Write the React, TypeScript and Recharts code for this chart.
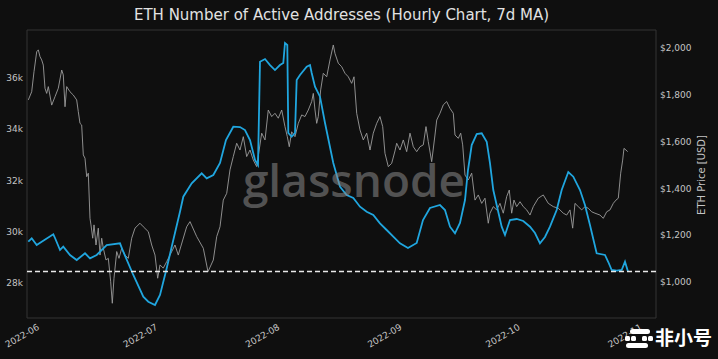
import React from "react";
import { LineChart, Line, XAxis, YAxis, ReferenceLine, ReferenceArea } from "recharts";

// x values are days since 2022-06-01
const monthTicks = [0, 30, 61, 92, 122, 153];
const monthLabels = ["2022-06", "2022-07", "2022-08", "2022-09", "2022-10", "2022-11"];
const addrTicks = [28000, 30000, 32000, 34000, 36000];
const priceTicks = [1000, 1200, 1400, 1600, 1800, 2000];
const baselineAddr = 28450;

// active addresses, 7d MA
const addrDays = [
  -2.97, -2.1, -0.84, 0.43, 3.38, 3.81, 5.08, 5.91, 7.61, 9.31,
  11.42, 12.69, 14.39, 16.93, 20.3, 21.14, 23.68, 26.22, 27.49, 29.19,
  30.46, 32.16, 33.43, 35.53, 36.37, 38.5, 41.04, 42.31, 43.99, 45.69,
  47.2, 49.06, 50.76, 52.03, 53.3, 54.57, 55.33, 55.84, 57.11, 58.38,
  59.64, 60.91, 61.75, 62.18, 62.77, 63.02, 63.88, 64.72, 65.15, 65.99,
  67.69, 68.53, 68.96, 69.8, 71.07, 72.34, 74.44, 76.14, 77.84, 79.52,
  81.22, 82.92, 84.59, 86.29, 87.99, 89.67, 91.37, 93.4, 95.61, 97.21,
  98.98, 101.52, 102.79, 104.06, 105.33, 106.6, 107.87, 108.63, 109.57, 110.84,
  112.11, 113.38, 114.21, 115.05, 115.91, 117.18, 118.02, 119.29, 120.99, 122.66,
  124.37, 125.63, 126.9, 128.17, 129.44, 131.14, 132.41, 134.09, 135.36, 137.06,
  138.32, 139.59, 141.29, 143.4, 144.24, 145.1, 146.37, 147.64, 148.48, 149.24,
];
const addrValues = [
  29611, 29744, 29483, 29611, 29900, 29756, 29288, 29416, 29093, 28897,
  29159, 28964, 29093, 29483, 29549, 29221, 28312, 27465, 27270, 27142,
  27532, 28574, 29416, 30782, 31367, 31890, 32281, 32085, 32214, 32682,
  33580, 34099, 34087, 33970, 33580, 32799, 32604, 36635, 36740, 36506,
  36311, 36506, 36584, 37365, 37287, 33853, 33709, 33853, 35921, 36116,
  36440, 36506, 36194, 35660, 35270, 34243, 32682, 31758, 31434, 31317,
  30977, 30782, 30653, 30329, 30068, 29807, 29549, 29366, 29561, 30458,
  30927, 31044, 30848, 30197, 29939, 30341, 31239, 32409, 33385, 33814,
  33841, 33513, 32682, 31629, 31044, 30197, 29873, 30458, 30497, 30419,
  30197, 29951, 29549, 29795, 30197, 30848, 31629, 32331, 32148, 31629,
  31044, 30263, 29159, 29093, 28819, 28507, 28480, 28507, 28831, 28449,
];

// ETH price, USD
const priceDays = [
  -2.97, -2.11, -1.52, -0.84, -0.43, 0, 0.43, 0.84, 1.27, 1.7,
  2.11, 2.97, 3.81, 4.64, 5.51, 5.91, 6.35, 6.78, 7.61, 8.45,
  9.31, 9.72, 10.15, 10.58, 10.99, 11.42, 11.85, 12.26, 12.69, 12.94,
  13.38, 13.71, 14.21, 14.8, 15.23, 15.66, 16.07, 16.75, 17.34, 17.94,
  18.35, 18.78, 19.47, 20.05, 20.74, 21.57, 22.41, 23.27, 24.11, 25.38,
  26.22, 27.49, 28.35, 29.19, 29.87, 30.46, 31.29, 32.16, 32.99, 34.26,
  35.1, 37.23, 38.07, 39.77, 41.45, 42.64, 43.99, 44.85, 45.69, 46.52,
  47.39, 48.22, 49.06, 49.92, 50.76, 51.6, 52.46, 53.3, 54.14, 55,
  56.27, 57.11, 57.94, 58.81, 59.64, 60.48, 61.35, 62.18, 62.77, 63.27,
  63.88, 64.72, 65.56, 66.42, 67.26, 68.1, 68.96, 69.37, 69.8, 70.23,
  70.63, 71.24, 71.9, 72.77, 73.6, 74.44, 74.87, 75.71, 76.57, 77.41,
  78.25, 79.11, 79.7, 80.38, 81.22, 82.06, 82.92, 83.76, 84.59, 85.46,
  86.29, 86.98, 87.56, 88.4, 89.26, 90.1, 90.53, 91.37, 92.21, 93.07,
  93.91, 94.75, 95.61, 96.45, 97.28, 97.97, 98.55, 99.42, 100.25, 100.69,
  101.52, 102.36, 103.22, 104.06, 104.9, 105.33, 106.17, 106.78, 107.28, 107.87,
  108.71, 109.57, 110.41, 111.24, 112.11, 112.94, 113.78, 114.21, 115.05, 115.91,
  116.75, 117.59, 118.45, 119.11, 119.72, 120.3, 120.99, 121.83, 122.66, 123.53,
  124.37, 125.2, 126.47, 127.74, 129.01, 130.28, 131.55, 132.82, 133.68, 134.52,
  135.2, 135.79, 136.62, 137.49, 138.32, 139.16, 140.03, 140.86, 142.13, 142.97,
  143.83, 144.67, 145.51, 146.19, 146.78, 147.39, 147.89, 148.22, 148.73, 149.16,
];
const priceValues = [
  1778, 1813, 1899, 1984, 1992, 1963, 1949, 1927, 1828, 1806,
  1835, 1756, 1792, 1828, 1906, 1885, 1749, 1835, 1813, 1799,
  1778, 1728, 1678, 1671, 1543, 1529, 1450, 1465, 1272, 1244,
  1187, 1244, 1158, 1230, 1115, 1187, 1144, 1094, 1101, 1001,
  909, 1016, 1130, 1101, 1144, 1115, 1101, 1187, 1230, 1251,
  1236, 1215, 1158, 1115, 1016, 1073, 1059, 1087, 1115, 1158,
  1115, 1236, 1258, 1194, 1144, 1044, 1094, 1194, 1236, 1350,
  1379, 1479, 1536, 1593, 1564, 1621, 1536, 1564, 1521, 1493,
  1636, 1607, 1735, 1707, 1721, 1700, 1735, 1664, 1621, 1578,
  1642, 1621, 1678, 1714, 1707, 1735, 1771, 1806, 1735, 1678,
  1707, 1821, 1892, 1877, 1949, 2013, 1977, 1935, 1920, 1892,
  1877, 1849, 1877, 1721, 1650, 1607, 1636, 1564, 1636, 1678,
  1707, 1664, 1550, 1493, 1507, 1560, 1593, 1564, 1607, 1557,
  1636, 1578, 1557, 1578, 1586, 1664, 1600, 1514, 1628, 1692,
  1721, 1757, 1771, 1742, 1721, 1628, 1614, 1636, 1586, 1457,
  1436, 1465, 1350, 1372, 1336, 1358, 1251, 1294, 1322, 1308,
  1336, 1294, 1365, 1393, 1294, 1350, 1322, 1343, 1322, 1308,
  1286, 1322, 1358, 1372, 1336, 1322, 1315, 1294, 1286, 1308,
  1230, 1336, 1322, 1308, 1322, 1315, 1300, 1294, 1286, 1272,
  1300, 1308, 1336, 1350, 1358, 1465, 1521, 1571, 1564, 1557,
];

const addrData = addrDays.map((d, i) => ({ d, v: addrValues[i] }));
const priceData = priceDays.map((d, i) => ({ d, v: priceValues[i] }));

const X_DOMAIN: [number, number] = [-3.3, 156.35];
const ADDR_DOMAIN: [number, number] = [26634, 37873];
const PRICE_DOMAIN: [number, number] = [846, 2077];

const BG = "#0f0f0f";
const TICK = "#c4c4c4";
const FONT = "'DejaVu Sans', sans-serif";

function MonthTick(props: any) {
  const { x, y, payload } = props;
  const i = monthTicks.indexOf(payload.value);
  const ty = y + 11;
  return (
    <text x={x} y={ty} transform={`rotate(-30, ${x}, ${ty})`} textAnchor="end"
      fill={TICK} fontSize={9} fontFamily={FONT}>
      {monthLabels[i]}
    </text>
  );
}

export default function App() {
  return (
    <div style={{ position: "absolute", left: 0, top: 0, width: 718, height: 359, background: BG, overflow: "hidden" }}>
      <div style={{ position: "absolute", left: 0, top: 7, width: 683, textAlign: "center", fontFamily: FONT, fontSize: 15, lineHeight: "17px", color: "#e2e2e2" }}>
        ETH Number of Active Addresses (Hourly Chart, 7d MA)
      </div>
      <LineChart width={718} height={359} margin={{ top: 30, right: 0, bottom: 0, left: 0 }}>
        <XAxis type="number" dataKey="d" domain={X_DOMAIN} ticks={monthTicks} interval={0}
          allowDataOverflow height={41} axisLine={false} tickLine={false} tickSize={0} tickMargin={0}
          tick={<MonthTick />} />
        <YAxis yAxisId="addr" orientation="left" width={27} domain={ADDR_DOMAIN} ticks={addrTicks}
          allowDataOverflow axisLine={false} tickLine={false} tickSize={0} tickMargin={4}
          tickFormatter={(v: number) => `${v / 1000}k`}
          tick={{ fontSize: 9, fill: TICK, fontFamily: FONT }} />
        <YAxis yAxisId="price" orientation="right" width={62} domain={PRICE_DOMAIN} ticks={priceTicks}
          allowDataOverflow axisLine={false} tickLine={false} tickSize={0} tickMargin={4}
          tickFormatter={(v: number) => `$${v.toLocaleString("en-US")}`}
          tick={{ fontSize: 9, fill: TICK, fontFamily: FONT, textAnchor: "start" }} />
        <ReferenceArea yAxisId="addr" x1={X_DOMAIN[0]} x2={X_DOMAIN[1]} y1={ADDR_DOMAIN[0]} y2={ADDR_DOMAIN[1]}
          fill="none" fillOpacity={0} stroke="#343434" strokeWidth={1} />
        <Line yAxisId="price" data={priceData} dataKey="v" type="linear" stroke="#9c9c9c" strokeWidth={0.9}
          dot={false} activeDot={false} isAnimationActive={false} />
        <Line yAxisId="addr" data={addrData} dataKey="v" type="linear" stroke="#20a6df" strokeWidth={1.8}
          dot={false} activeDot={false} isAnimationActive={false} />
        <ReferenceLine yAxisId="addr" y={baselineAddr} stroke="#e8e8e8" strokeDasharray="5 3" strokeWidth={1.5} />
      </LineChart>
      <div style={{ position: "absolute", left: 204, top: 156, width: 300, textAlign: "center", fontFamily: "'Open Sans', sans-serif", fontWeight: 600, fontSize: 46, lineHeight: "46px", color: "#8a8a8a", opacity: 0.55, pointerEvents: "none" }}>
        glassnode
      </div>
      <div style={{ position: "absolute", left: 652, top: 169, width: 100, height: 12, lineHeight: "12px", textAlign: "center", transform: "rotate(-90deg)", fontFamily: FONT, fontSize: 10, color: TICK }}>
        ETH Price [USD]
      </div>
      <svg style={{ position: "absolute", left: 622, top: 326 }} width={32} height={24}>
        <rect x={8} y={3} width={20} height={5} rx={2.5} fill="#fff" />
        <rect x={3} y={10} width={5} height={5} rx={1.5} fill="#fff" />
        <rect x={9} y={10} width={5} height={5} rx={1.5} fill="#fff" />
        <rect x={20} y={10} width={5} height={5} rx={1.5} fill="#fff" />
        <rect x={26} y={10} width={5} height={5} rx={1.5} fill="#fff" />
        <rect x={4} y={17} width={22} height={5} rx={2.5} fill="#fff" />
      </svg>
      <div style={{ position: "absolute", left: 655, top: 326, fontFamily: "'Noto Sans CJK SC', sans-serif", fontWeight: 700, fontSize: 19, lineHeight: "22px", color: "#fff" }}>
        非小号
      </div>
    </div>
  );
}
